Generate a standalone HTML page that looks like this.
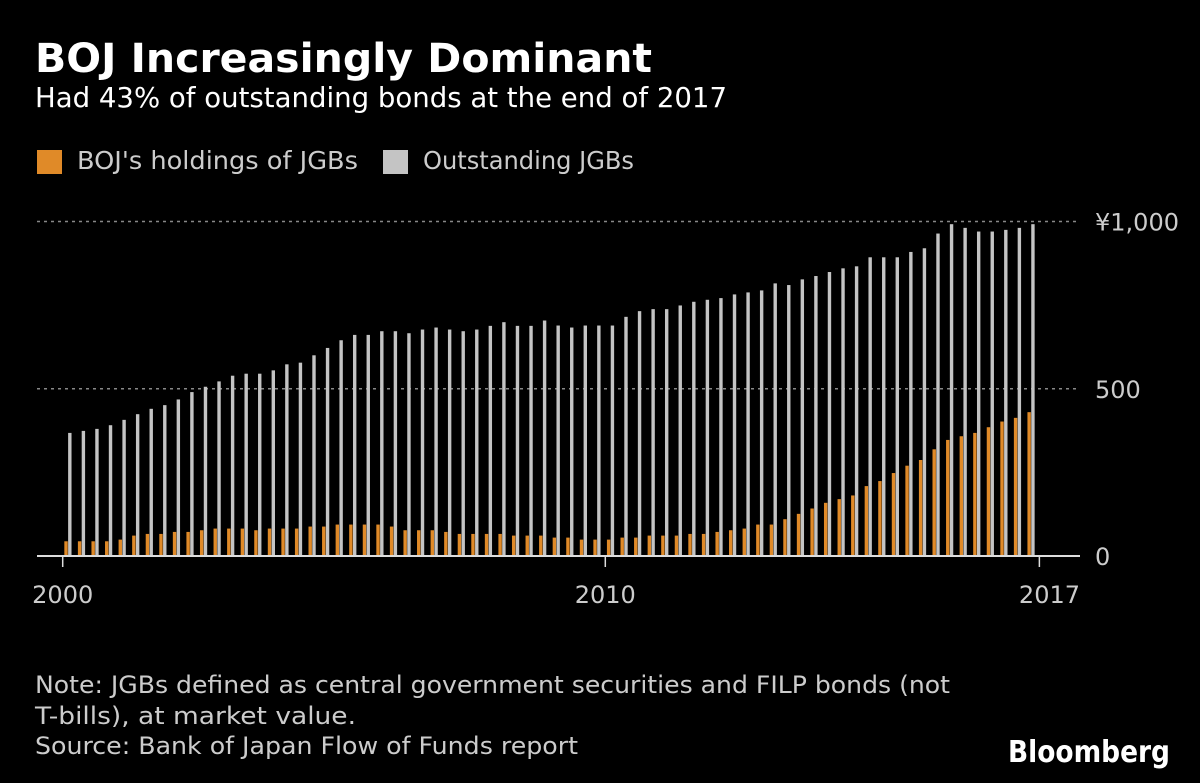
<!DOCTYPE html>
<html><head><meta charset="utf-8">
<style>
html,body{margin:0;padding:0;background:#000;}
svg{display:block;}
text{font-family:"DejaVu Sans","Liberation Sans",sans-serif;}
</style></head>
<body>
<svg id="chart" width="1200" height="783" viewBox="0 0 1200 783">
  <rect x="0" y="0" width="1200" height="783" fill="#000"/>
  <text x="35" y="72" fill="#fff" font-size="40" font-weight="bold" textLength="617" lengthAdjust="spacingAndGlyphs">BOJ Increasingly Dominant</text>
  <text x="35" y="107" fill="#fff" font-size="28" textLength="692" lengthAdjust="spacingAndGlyphs">Had 43% of outstanding bonds at the end of 2017</text>
  <g>
    <rect x="37" y="150" width="25" height="24" fill="#e08a28"/>
    <text x="77" y="169" fill="#ccc" font-size="25" textLength="281" lengthAdjust="spacingAndGlyphs">BOJ's holdings of JGBs</text>
    <rect x="383" y="150" width="25" height="24" fill="#c4c4c4"/>
    <text x="423" y="169" fill="#ccc" font-size="25" textLength="211" lengthAdjust="spacingAndGlyphs">Outstanding JGBs</text>
  </g>
  <g id="grid"></g>
  <g id="bars"></g>
  <g id="axes"></g>
  <g>
    <text x="35" y="693" fill="#ccc" font-size="24" textLength="915" lengthAdjust="spacingAndGlyphs">Note: JGBs defined as central government securities and FILP bonds (not</text>
    <text x="35" y="724" fill="#ccc" font-size="24" textLength="321" lengthAdjust="spacingAndGlyphs">T-bills), at market value.</text>
    <text x="35" y="754" fill="#ccc" font-size="24" textLength="543" lengthAdjust="spacingAndGlyphs">Source: Bank of Japan Flow of Funds report</text>
  </g>
  <text x="1008" y="762" fill="#fff" font-size="30" font-weight="bold" font-family="Liberation Sans, sans-serif" textLength="162" lengthAdjust="spacingAndGlyphs">Bloomberg</text>
</svg>
<script>
const outstanding = [368,374,380,391,407,424,440,451,468,490,506,522,539,545,545,555,573,578,600,622,645,661,661,672,672,666,677,683,677,672,677,688,699,688,688,704,
  689,683,689,689,689,715,732,738,738,749,760,766,771,782,788,794,815,810,827,837,849,860,866,893,893,893,909,920,964,992,981,970,970,975,981,992];
const bojHoldings = [44,44,44,44,49,61,66,66,72,72,77,82,82,82,77,82,82,82,88,88,94,94,94,94,88,77,77,77,72,66,66,66,66,61,61,61,
  55,55,49,49,49,55,55,61,61,61,66,66,72,77,82,94,94,110,126,142,159,170,181,209,224,248,270,287,319,347,358,368,385,402,413,430];
const yTicks = [0,500,1000];
const yTickLabels = ["0","500","¥1,000"];
const xTicks = [2000,2010,2018];
const xTickLabels = ["2000","2010","2017"];
const startYear = 2000;

const NS = "http://www.w3.org/2000/svg";
const y = v => 556 - v * 0.3345;
const xYear = yr => 62.7 + (yr - 2000) * 54.26;
const xQuarter = i => xYear(startYear + i / 4 + 0.1);

function mk(tag, attrs, parent) {
  const el = document.createElementNS(NS, tag);
  for (const k in attrs) el.setAttribute(k, attrs[k]);
  parent.appendChild(el);
  return el;
}
const grid = document.getElementById('grid');
const bars = document.getElementById('bars');
const axes = document.getElementById('axes');

yTicks.forEach((t, i) => {
  if (t !== 0) {
    const l = mk('line', {x1: 37, x2: 1080, y1: y(t), y2: y(t), stroke: '#888', 'stroke-width': 1.5, 'stroke-dasharray': '3,4'}, grid);
    
    
  }
  const tx = mk('text', {x: 1095, y: y(t) + 9, fill: '#ccc', 'font-size': 24}, axes);
  tx.textContent = yTickLabels[i];
  
  
});

outstanding.forEach((v, i) => {
  const cx = xQuarter(i);
  const b = mk('rect', {x: cx - 3.8, y: y(bojHoldings[i]), width: 3.4, height: 556 - y(bojHoldings[i]), fill: '#e08a28'}, bars);
  
  
  const g = mk('rect', {x: cx, y: y(v), width: 3.4, height: 556 - y(v), fill: '#c4c4c4'}, bars);
  
  
});

const base = mk('line', {x1: 37, x2: 1080, y1: 556, y2: 556, stroke: '#ddd', 'stroke-width': 2}, axes);


xTicks.forEach((t, i) => {
  const tk = mk('line', {x1: xYear(t), x2: xYear(t), y1: 556, y2: 567, stroke: '#ddd', 'stroke-width': 1.5}, axes);
  
  
  let anchor = 'middle', xx = xYear(t);
  if (i === xTicks.length - 1) { anchor = 'end'; xx = 1080; }
  const tx = mk('text', {x: xx, y: 603, fill: '#ccc', 'font-size': 24, 'text-anchor': anchor}, axes);
  tx.textContent = xTickLabels[i];
  
  
});
</script>
</body></html>
